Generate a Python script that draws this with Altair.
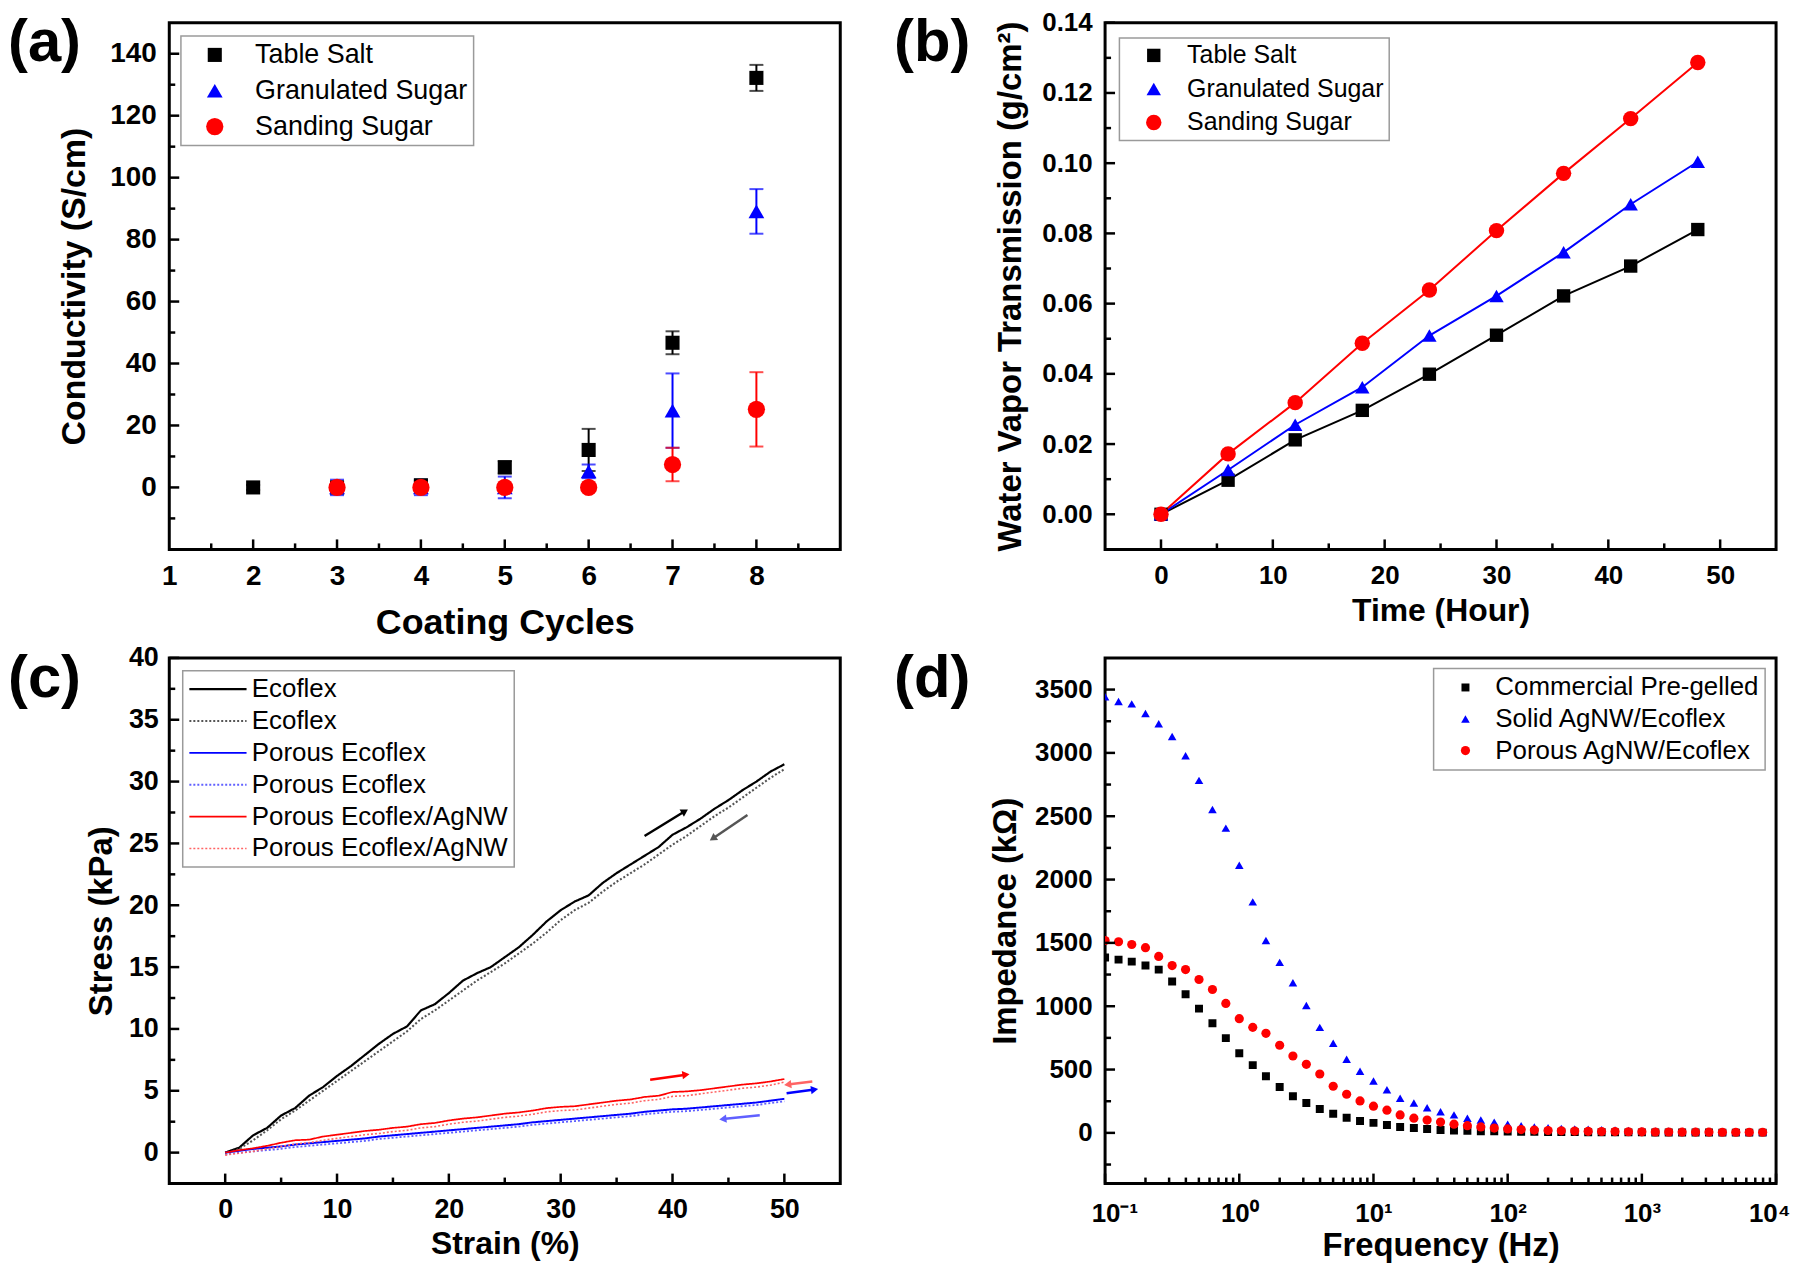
import math
import altair as alt
import pandas as pd

FONT = "Liberation Sans, Arial, Helvetica, sans-serif"
BLACK, BLUE, RED = "#000000", "#0000ff", "#ff0000"

W = 674
H0 = 529
H1 = 528

# ---------------- (a) data ----------------
a_series = ["Table Salt", "Granulated Sugar", "Sanding Sugar"]
a_salt_x = [2, 3, 4, 5, 6, 7, 8]
a_salt_y = [0.0, 0.0, 0.7, 6.5, 12.1, 46.7, 132.2]
a_salt_e = [0.8, 0.5, 1.5, 2.0, 6.8, 3.7, 4.2]
a_gran_x = [3, 4, 5, 6, 7, 8]
a_gran_y = [0.0, 0.0, 0.0, 5.2, 24.8, 89.1]
a_gran_e = [2.5, 2.5, 3.5, 2.2, 12.0, 7.2]
a_sand_x = [3, 4, 5, 6, 7, 8]
a_sand_y = [0.0, 0.0, 0.0, 0.0, 7.4, 25.2]
a_sand_e = [0.8, 0.8, 0.8, 0.5, 5.4, 12.0]

# ---------------- (b) data ----------------
b_hours = [0, 6, 12, 18, 24, 30, 36, 42, 48]
b_salt = [0.0, 0.0097, 0.0212, 0.0296, 0.0399, 0.0510, 0.0622, 0.0707, 0.0811]
b_gran = [0.0, 0.0126, 0.0255, 0.0362, 0.0509, 0.0622, 0.0746, 0.0883, 0.1004]
b_sand = [0.0, 0.0172, 0.0318, 0.0487, 0.0639, 0.0808, 0.0971, 0.1127, 0.1287]

# ---------------- (c) data ----------------
c_series = ["Ecoflex", "Ecoflex ", "Porous Ecoflex", "Porous Ecoflex ",
            "Porous Ecoflex/AgNW", "Porous Ecoflex/AgNW "]
c_strain = [0.0, 1.25, 2.5, 3.75, 5.0, 6.25, 7.5, 8.75, 10.0, 11.25, 12.5, 13.75,
            15.0, 16.25, 17.5, 18.75, 20.0, 21.25, 22.5, 23.75, 25.0, 26.25, 27.5,
            28.75, 30.0, 31.25, 32.5, 33.75, 35.0, 36.25, 37.5, 38.75, 40.0, 41.25,
            42.5, 43.75, 45.0, 46.25, 47.5, 48.75, 50.0]
c_eco_load = [0.0, 0.4, 1.4, 2.0, 3.0, 3.6, 4.6, 5.3, 6.2, 7.0, 7.9, 8.8, 9.6, 10.2,
              11.5, 12.0, 12.9, 13.9, 14.5, 15.0, 15.8, 16.6, 17.6, 18.7, 19.6, 20.3,
              20.8, 21.8, 22.6, 23.3, 24.0, 24.7, 25.7, 26.3, 27.0, 27.8, 28.5, 29.3,
              30.0, 30.8, 31.4]
c_eco_unld = [-0.1, 0.3, 1.0, 1.8, 2.7, 3.4, 4.2, 5.0, 5.8, 6.6, 7.4, 8.2, 9.0, 9.8,
              10.8, 11.5, 12.3, 13.1, 13.9, 14.6, 15.3, 16.1, 16.9, 17.8, 18.8, 19.6,
              20.2, 21.1, 21.9, 22.6, 23.3, 24.1, 24.9, 25.6, 26.4, 27.2, 27.9, 28.7,
              29.5, 30.3, 31.0]
c_por_load = [0.0, 0.15, 0.3, 0.4, 0.5, 0.65, 0.75, 0.85, 0.95, 1.05, 1.15, 1.3, 1.4,
              1.5, 1.6, 1.7, 1.8, 1.9, 2.0, 2.1, 2.2, 2.3, 2.45, 2.55, 2.65, 2.75, 2.85,
              2.95, 3.05, 3.15, 3.3, 3.4, 3.5, 3.55, 3.65, 3.75, 3.85, 3.95, 4.05, 4.2,
              4.35]
c_por_unld = [-0.15, 0.0, 0.1, 0.2, 0.3, 0.45, 0.55, 0.65, 0.75, 0.85, 0.95, 1.1,
              1.2, 1.3, 1.4, 1.5, 1.6, 1.7, 1.8, 1.9, 2.0, 2.1, 2.25, 2.35, 2.45, 2.55,
              2.65, 2.75, 2.85, 2.95, 3.1, 3.2, 3.3, 3.35, 3.45, 3.55, 3.65, 3.75, 3.85,
              4.0, 4.15]
c_agnw_load = [0.0, 0.2, 0.35, 0.55, 0.8, 1.0, 1.05, 1.3, 1.45, 1.6, 1.75, 1.85,
               2.0, 2.1, 2.3, 2.4, 2.6, 2.75, 2.85, 3.0, 3.15, 3.25, 3.4, 3.6, 3.7,
               3.75, 3.9, 4.05, 4.2, 4.3, 4.5, 4.6, 4.9, 4.95, 5.05, 5.2, 5.35, 5.5,
               5.6, 5.75, 5.95]
c_agnw_unld = [-0.2, -0.05, 0.1, 0.3, 0.5, 0.7, 0.8, 1.0, 1.15, 1.3, 1.45, 1.55,
               1.7, 1.8, 2.0, 2.1, 2.3, 2.45, 2.55, 2.7, 2.85, 2.95, 3.1, 3.3, 3.4,
               3.45, 3.6, 3.75, 3.9, 4.0, 4.2, 4.3, 4.55, 4.6, 4.75, 4.9, 5.05, 5.2,
               5.3, 5.45, 5.7]
arrow_x1 = [37.5, 46.7, 38.0, 52.5, 50.2, 47.8]
arrow_y1 = [25.6, 27.3, 5.9, 5.75, 4.8, 3.03]
arrow_x2 = [41.1, 43.6, 41.2, 50.3, 52.7, 44.5]
arrow_y2 = [27.6, 25.4, 6.3, 5.5, 5.1, 2.71]
arrow_col = ["#000000", "#555555", "#ff0000", "#ff6464", "#0000ff", "#6060ff"]

# ---------------- (d) data ----------------
d_series = ["Commercial Pre-gelled", "Solid AgNW/Ecoflex", "Porous AgNW/Ecoflex"]
d_freq = [0.1, 0.126, 0.158, 0.2, 0.251, 0.316, 0.398, 0.501, 0.631, 0.794,
          1, 1.26, 1.58, 2, 2.51, 3.16, 3.98, 5.01, 6.31, 7.94,
          10, 12.6, 15.8, 20, 25.1, 31.6, 39.8, 50.1, 63.1, 79.4,
          100, 126, 158, 200, 251, 316, 398, 501, 631, 794,
          1000, 1259, 1585, 1995, 2512, 3162, 3981, 5012, 6310, 7943]
d_comm = [1384, 1368, 1352, 1321, 1289, 1195, 1094, 981, 865, 748,
          629, 535, 447, 362, 289, 236, 189, 151, 120, 94,
          79, 63, 47, 38, 31, 22, 19, 16, 13, 12,
          10, 9, 8, 7, 6, 6, 5, 5, 4, 4,
          4, 3, 3, 3, 3, 3, 2, 2, 2, 2]
d_solid = [3443, 3406, 3387, 3311, 3230, 3129, 2978, 2783, 2553, 2406,
           2113, 1824, 1519, 1346, 1186, 1006, 833, 708, 582, 487,
           409, 340, 274, 236, 198, 167, 142, 116, 101, 85,
           69, 57, 47, 41, 35, 31, 28, 25, 22, 20,
           18, 16, 15, 14, 13, 12, 11, 10, 10, 9]
d_porous = [1519, 1509, 1487, 1462, 1393, 1321, 1289, 1211, 1132, 1022,
            902, 833, 786, 692, 607, 541, 465, 368, 305, 252,
            211, 179, 142, 116, 101, 85, 69, 57, 47, 38,
            31, 26, 22, 19, 16, 14, 12, 11, 10, 9,
            8, 7, 7, 6, 6, 6, 5, 5, 5, 5]


# ---------------- helpers ----------------
def xticks(vals, scale, axis, h, length, sw=2.5):
    return alt.Chart(pd.DataFrame({"t": vals})).mark_rule(color="black", strokeWidth=sw).encode(
        x=alt.X("t:Q", scale=scale, axis=axis),
        y=alt.value(h), y2=alt.value(h - length))


def yticks(vals, scale, axis, length, sw=2.5):
    return alt.Chart(pd.DataFrame({"t": vals})).mark_rule(color="black", strokeWidth=sw).encode(
        y=alt.Y("t:Q", scale=scale, axis=axis),
        x=alt.value(0), x2=alt.value(length))


def panel_label(txt, x, y):
    return alt.Chart(pd.DataFrame({"lab": [txt]})).mark_text(
        font=FONT, fontSize=60, fontWeight="bold", align="left",
        baseline="top", color="black").encode(
        x=alt.value(x), y=alt.value(y), text="lab:N")


def xaxis(title, tfs, lfs, values, ty, lpad=13, fmt=None, expr=None, flush=False,
          flush_off=0):
    kw = dict(values=values, title=title, titleFontSize=tfs, labelFontSize=lfs,
              labelPadding=lpad, titleY=ty, titleBaseline="middle",
              labelFlush=flush, labelOverlap=False)
    if flush:
        kw["labelFlushOffset"] = flush_off
    if fmt:
        kw["format"] = fmt
    if expr:
        kw["labelExpr"] = expr
    return alt.Axis(**kw)


def yaxis(title, tfs, lfs, values, tx, h, lpad=13, fmt=None):
    kw = dict(values=values, title=title, titleFontSize=tfs, labelFontSize=lfs,
              labelPadding=lpad, titleX=tx, titleY=h / 2, titleBaseline="middle",
              titleAngle=270, titleAlign="center", labelOverlap=False)
    if fmt:
        kw["format"] = fmt
    return alt.Axis(**kw)


def legend(x, y, pad, rowpad, fs, size, soff, loff, **extra):
    return alt.Legend(title=None, orient="none", legendX=x, legendY=y,
                      padding=pad, rowPadding=rowpad, labelFontSize=fs,
                      symbolSize=size, symbolOffset=soff, labelOffset=loff,
                      strokeColor="#9a9a9a", fillColor="white", labelLimit=500,
                      symbolOpacity=1, **extra)


# ---------------- panel (a) ----------------
rows = []
for name, xs, ys, es in [(a_series[0], a_salt_x, a_salt_y, a_salt_e),
                         (a_series[1], a_gran_x, a_gran_y, a_gran_e),
                         (a_series[2], a_sand_x, a_sand_y, a_sand_e)]:
    for x, y, e in zip(xs, ys, es):
        rows.append({"cycle": x, "val": y, "lo": y - e, "hi": y + e, "series": name})
df_a = pd.DataFrame(rows)
caps_a = pd.concat([df_a.assign(cap=df_a["lo"]), df_a.assign(cap=df_a["hi"])])

xa = alt.Scale(domain=[1, 9], nice=False, zero=False)
ya = alt.Scale(domain=[-20, 150], nice=False, zero=False)
xa_ax = xaxis("Coating Cycles", 36, 28, [1, 2, 3, 4, 5, 6, 7, 8], 73, 13)
ya_ax = yaxis("Conductivity (S/cm)", 34, 28, [0, 20, 40, 60, 80, 100, 120, 140], -95, H0)
col_a = alt.Scale(domain=a_series, range=[BLACK, BLUE, RED])
shp_a = alt.Scale(domain=a_series, range=["square", "triangle-up", "circle"])
siz_a = alt.Scale(domain=a_series, range=[200, 300, 210])
leg_a = legend(11.7, 13.3, 5.5, 8, 27, 270, 15, 27, symbolStrokeWidth=0)

a_err = alt.Chart(df_a).mark_rule(strokeWidth=2).encode(
    x=alt.X("cycle:Q", scale=xa, axis=xa_ax),
    y=alt.Y("lo:Q", scale=ya, axis=ya_ax), y2="hi:Q",
    color=alt.Color("series:N", scale=col_a, legend=leg_a))
a_caps = alt.Chart(caps_a).mark_tick(orient="horizontal", size=14, thickness=2).encode(
    x=alt.X("cycle:Q", scale=xa, axis=xa_ax),
    y=alt.Y("cap:Q", scale=ya, axis=ya_ax),
    color=alt.Color("series:N", scale=col_a, legend=leg_a))
a_pts = alt.Chart(df_a).mark_point(filled=True, opacity=1).encode(
    x=alt.X("cycle:Q", scale=xa, axis=xa_ax),
    y=alt.Y("val:Q", scale=ya, axis=ya_ax),
    color=alt.Color("series:N", scale=col_a, legend=leg_a),
    shape=alt.Shape("series:N", scale=shp_a, legend=leg_a),
    size=alt.Size("series:N", scale=siz_a, legend=None))
panel_a = alt.layer(
    a_err, a_caps, a_pts,
    xticks([2, 3, 4, 5, 6, 7, 8], xa, xa_ax, H0, 10),
    xticks([1.5, 2.5, 3.5, 4.5, 5.5, 6.5, 7.5, 8.5], xa, xa_ax, H0, 6),
    yticks([0, 20, 40, 60, 80, 100, 120, 140], ya, ya_ax, 10),
    yticks([-10, 10, 30, 50, 70, 90, 110, 130], ya, ya_ax, 6),
    panel_label("(a)", -162, -9),
).properties(width=W, height=H0)

# ---------------- panel (b) ----------------
rows = []
for name, ys in zip(a_series, [b_salt, b_gran, b_sand]):
    for x, y in zip(b_hours, ys):
        rows.append({"hour": x, "wvt": y, "series": name})
df_b = pd.DataFrame(rows)
xb = alt.Scale(domain=[-5, 55], nice=False, zero=False)
yb = alt.Scale(domain=[-0.01, 0.14], nice=False, zero=False)
xb_ax = xaxis("Time (Hour)", 32, 26, [0, 10, 20, 30, 40, 50], 61, 13)
yb_ax = yaxis("Water Vapor Transmission (g/cm²)", 33, 26,
              [0, 0.02, 0.04, 0.06, 0.08, 0.10, 0.12, 0.14], -95, H0, fmt=".2f")
siz_b = alt.Scale(domain=a_series, range=[180, 240, 190])
leg_b = legend(14.4, 15.3, 5, 7.7, 25, 230, 17, 21, symbolStrokeWidth=0)
b_lines = alt.Chart(df_b).mark_line(strokeWidth=2).encode(
    x=alt.X("hour:Q", scale=xb, axis=xb_ax),
    y=alt.Y("wvt:Q", scale=yb, axis=yb_ax),
    color=alt.Color("series:N", scale=col_a, legend=leg_b),
    detail="series:N")
b_pts = alt.Chart(df_b).mark_point(filled=True, opacity=1).encode(
    x=alt.X("hour:Q", scale=xb, axis=xb_ax),
    y=alt.Y("wvt:Q", scale=yb, axis=yb_ax),
    color=alt.Color("series:N", scale=col_a, legend=leg_b),
    shape=alt.Shape("series:N", scale=shp_a, legend=leg_b),
    size=alt.Size("series:N", scale=siz_b, legend=None))
panel_b = alt.layer(
    b_lines, b_pts,
    xticks([0, 10, 20, 30, 40, 50], xb, xb_ax, H0, 10),
    xticks([5, 15, 25, 35, 45], xb, xb_ax, H0, 6),
    yticks([0, 0.02, 0.04, 0.06, 0.08, 0.10, 0.12, 0.14], yb, yb_ax, 10),
    yticks([0.01, 0.03, 0.05, 0.07, 0.09, 0.11, 0.13], yb, yb_ax, 6),
    panel_label("(b)", -212, -9),
).properties(width=W, height=H0)

# ---------------- panel (c) ----------------
rows = []
for name, ys in zip(c_series, [c_eco_load, c_eco_unld, c_por_load, c_por_unld,
                               c_agnw_load, c_agnw_unld]):
    for i, (x, y) in enumerate(zip(c_strain, ys)):
        rows.append({"strain": x, "stress": y, "series": name, "i": i})
df_c = pd.DataFrame(rows)
xc = alt.Scale(domain=[-5, 55], nice=False, zero=False)
yc = alt.Scale(domain=[-2.5, 40], nice=False, zero=False)
xc_ax = xaxis("Strain (%)", 32, 27, [0, 10, 20, 30, 40, 50], 60, 13)
yc_ax = yaxis("Stress (kPa)", 33, 27, [0, 5, 10, 15, 20, 25, 30, 35, 40], -68, H1, lpad=11)
col_c = alt.Scale(domain=c_series,
                  range=[BLACK, "#555555", BLUE, "#6060ff", RED, "#ff6464"])
dash_c = alt.Scale(domain=c_series,
                   range=[[1, 0], [2, 2], [1, 0], [2, 2], [1, 0], [2, 2]])
wid_c = alt.Scale(domain=c_series, range=[2.2, 1.6, 3, 2, 3, 2])
leg_c = legend(13.5, 13, 5.4, 6, 26, 3300, 0, 4,
               symbolType="stroke", symbolStrokeWidth=2, clipHeight=26)
c_lines = alt.Chart(df_c).mark_line().encode(
    x=alt.X("strain:Q", scale=xc, axis=xc_ax),
    y=alt.Y("stress:Q", scale=yc, axis=yc_ax),
    color=alt.Color("series:N", scale=col_c, legend=leg_c, sort=c_series),
    strokeDash=alt.StrokeDash("series:N", scale=dash_c, legend=leg_c, sort=c_series),
    strokeWidth=alt.StrokeWidth("series:N", scale=wid_c, legend=None),
    order="i:Q")

px_x = W / 60.0
px_y = H1 / 42.5
arrow_layers = []
for x1, y1, x2, y2, c in zip(arrow_x1, arrow_y1, arrow_x2, arrow_y2, arrow_col):
    adf = pd.DataFrame({"x1": [x1], "y1": [y1], "x2": [x2], "y2": [y2]})
    ang = math.degrees(math.atan2((x2 - x1) * px_x, (y2 - y1) * px_y)) % 360
    arrow_layers.append(alt.Chart(adf).mark_rule(color=c, strokeWidth=2.5).encode(
        x=alt.X("x1:Q", scale=xc, axis=xc_ax), y=alt.Y("y1:Q", scale=yc, axis=yc_ax),
        x2="x2:Q", y2="y2:Q"))
    arrow_layers.append(alt.Chart(adf).mark_point(
        shape="triangle-up", filled=True, opacity=1, size=70, color=c, angle=ang).encode(
        x=alt.X("x2:Q", scale=xc, axis=xc_ax), y=alt.Y("y2:Q", scale=yc, axis=yc_ax)))

panel_c = alt.layer(
    c_lines, *arrow_layers,
    xticks([0, 10, 20, 30, 40, 50], xc, xc_ax, H1, 10),
    xticks([5, 15, 25, 35, 45], xc, xc_ax, H1, 6),
    yticks([0, 5, 10, 15, 20, 25, 30, 35, 40], yc, yc_ax, 10),
    yticks([2.5, 7.5, 12.5, 17.5, 22.5, 27.5, 32.5, 37.5], yc, yc_ax, 6),
    panel_label("(c)", -162, -8),
).properties(width=W, height=H1)

# ---------------- panel (d) ----------------
rows = []
for name, ys in zip(d_series, [d_comm, d_solid, d_porous]):
    for x, y in zip(d_freq, ys):
        rows.append({"freq": x, "imp": y, "series": name})
df_d = pd.DataFrame(rows)
xd = alt.Scale(type="log", domain=[0.1, 10000], nice=False)
yd = alt.Scale(domain=[-400, 3750], nice=False, zero=False)
sup_expr = ("['10⁻¹','10⁰','10¹','10²','10³','10⁴']"
            "[round(log(datum.value)/LN10)+1]")
xd_ax = xaxis("Frequency (Hz)", 33, 26, [0.1, 1, 10, 100, 1000, 10000], 62, 17,
              expr=sup_expr, flush=True, flush_off=14)
yd_ax = yaxis("Impedance (kΩ)", 33, 26,
              [0, 500, 1000, 1500, 2000, 2500, 3000, 3500], -100, H1, fmt="d")
col_d = alt.Scale(domain=d_series, range=[BLACK, BLUE, RED])
shp_d = alt.Scale(domain=d_series, range=["square", "triangle-up", "circle"])
siz_d = alt.Scale(domain=d_series, range=[64, 85, 64])
leg_d = legend(330, 10.7, 6, 5.7, 26, 70, 13, 17, symbolStrokeWidth=0)
d_pts = alt.Chart(df_d).mark_point(filled=True, opacity=1, clip=True).encode(
    x=alt.X("freq:Q", scale=xd, axis=xd_ax),
    y=alt.Y("imp:Q", scale=yd, axis=yd_ax),
    color=alt.Color("series:N", scale=col_d, legend=leg_d),
    shape=alt.Shape("series:N", scale=shp_d, legend=leg_d),
    size=alt.Size("series:N", scale=siz_d, legend=None))

d_major = [0.1, 1, 10, 100, 1000, 10000]
d_minor = [m * d for d in [0.1, 1, 10, 100, 1000] for m in [2, 3, 4, 5, 6, 7, 8, 9]]
panel_d = alt.layer(
    d_pts,
    xticks(d_major, xd, xd_ax, H1, 10),
    xticks(d_minor, xd, xd_ax, H1, 6),
    yticks([0, 500, 1000, 1500, 2000, 2500, 3000, 3500], yd, yd_ax, 10),
    yticks([-250, 250, 750, 1250, 1750, 2250, 2750, 3250], yd, yd_ax, 6),
    panel_label("(d)", -212, -8),
).properties(width=W, height=H1)

chart = alt.concat(panel_a, panel_b, panel_c, panel_d, columns=2,
                   spacing={"row": 0, "column": 50}).resolve_scale(
    color="independent", shape="independent", size="independent",
    strokeDash="independent", strokeWidth="independent"
).resolve_legend(
    color="independent", shape="independent", size="independent",
    strokeDash="independent", strokeWidth="independent"
).properties(
    autosize=alt.AutoSizeParams(type="none"),
    padding={"left": 162, "top": 12, "right": 1630, "bottom": 1244}
).configure_view(
    stroke="black", strokeWidth=3
).configure_axis(
    domain=False, ticks=False, grid=False,
    labelFont=FONT, titleFont=FONT, labelFontWeight="bold", titleFontWeight="bold",
    labelColor="black", titleColor="black"
).configure_legend(
    labelFont=FONT, labelColor="black", cornerRadius=0, strokeWidth=1.5
)

chart.save("out.html", embed_options={"renderer": "svg", "actions": False})
